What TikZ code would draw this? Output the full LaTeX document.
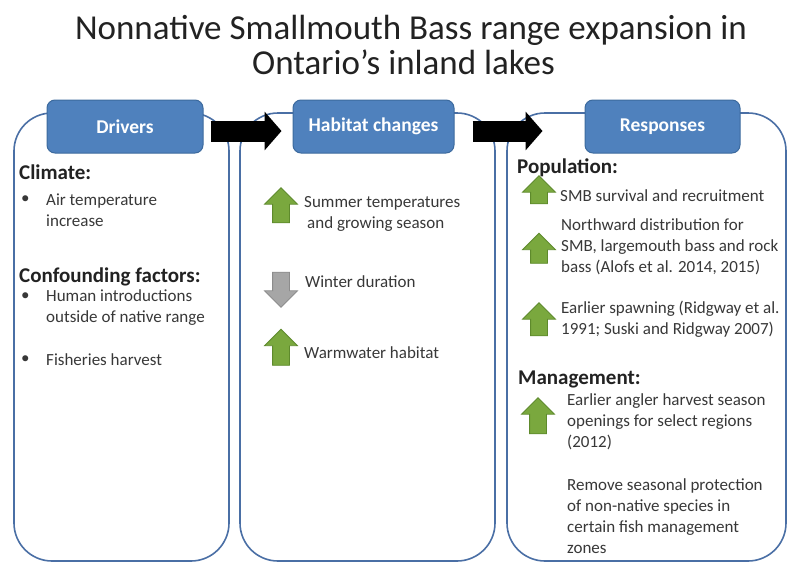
\documentclass[tikz,border=0pt]{standalone}
\usepackage{fontspec}
\setmainfont{Carlito}
\usetikzlibrary{shapes.arrows,arrows.meta}
\definecolor{panelc}{HTML}{4A6FA5}
\definecolor{headf}{HTML}{4F81BD}
\definecolor{headd}{HTML}{3C6A9E}
\definecolor{greenf}{HTML}{7AA83E}
\definecolor{greend}{HTML}{5E8A2C}
\definecolor{grayf}{HTML}{A6A6A6}
\definecolor{grayd}{HTML}{8C8C8C}
\definecolor{txt}{HTML}{383838}
\definecolor{txtb}{HTML}{222222}
\begin{document}
\begin{tikzpicture}[x=1pt,y=-1pt,
  panel/.style={draw=panelc, line width=1.6pt, rounded corners=38pt, fill=white, inner sep=0pt},
  header/.style={draw=headd, line width=1pt, fill=headf, rounded corners=8pt, text=white,
    font=\fontsize{19.5}{23}\selectfont\bfseries, inner sep=0pt, minimum height=53pt},
  titletext/.style={text=txtb, font=\fontsize{35}{35}\selectfont, inner sep=0pt, anchor=base},
  body/.style={text=txt, font=\fontsize{17}{21}\selectfont, inner sep=0pt, anchor=west, align=left},
  headtext/.style={text=txtb, font=\fontsize{21}{25}\selectfont\bfseries, inner sep=0pt, anchor=west},
  arrbase/.style={single arrow, line width=0.8pt, single arrow head extend=8pt,
    single arrow head indent=0pt, inner sep=8pt},
  uparr/.style={arrbase, rotate=90, draw=greend, fill=greenf},
  downarr/.style={arrbase, rotate=-90, draw=grayd, fill=grayf},
  bigarr/.style={line width=21pt, black, -{Triangle[length=17pt,width=38pt]}}
]
\useasboundingbox[fill=white] (0,0) rectangle (790,565);

% title
\node[titletext] (t1) at (411,39) {Nonnative Smallmouth Bass range expansion in};
\node[titletext] (t2) at (403.5,74) {Ontario’s inland lakes};

% panels
\node[panel, minimum width=215pt, minimum height=448pt] (p1) at (121.5,337) {};
\node[panel, minimum width=255pt, minimum height=448pt] (p2) at (367.5,337) {};
\node[panel, minimum width=279pt, minimum height=448pt] (p3) at (646.5,337) {};

% headers
\node[header, minimum width=156pt] (drv) at (125,126.5) {Drivers};
\node[header, minimum width=161pt] (hab) at (373.5,126.5) {Habitat changes};
\node[header, minimum width=155pt] (rsp) at (662.5,126.5) {Responses};

% big arrows
\draw[bigarr] ([shift={(7,4.5)}]drv.east) -- ([shift={(-11,4.5)}]hab.west);
\draw[bigarr] ([shift={(18,4.5)}]hab.east) -- ([shift={(-42,4.5)}]rsp.west);

% left panel
\node[headtext] (clim) at (19,172) {Climate:};
\node[body] (b1) at (21,200) {•};
\node[body] (air) at (46,210.5) {Air temperature\\increase};
\node[headtext] (conf) at (19,277) {Confounding factors:};
\node[body] (b2) at (21,297) {•};
\node[body] (hum) at (46,307.5) {Human introductions\\outside of native range};
\node[body] (b3) at (21,360) {•};
\node[body] (fish) at (46,360) {Fisheries harvest};

% middle panel
\node[uparr, minimum height=35pt] (a1) at (281,209.5) {};
\node[body] (sum) at (304,213.5) {Summer temperatures\\\hspace*{3pt}and growing season};
\node[downarr, minimum height=35pt] (a2) at (281,285.5) {};
\node[body] (win) at (305,282) {Winter duration};
\node[uparr, minimum height=36pt] (a3) at (281,351.5) {};
\node[body] (warm) at (304,353) {Warmwater habitat};

% right panel
\node[headtext] (pop) at (517,168) {Population:};
\node[uparr, minimum height=28pt] (r1) at (539,194) {};
\node[body] (smb) at (560,196) {SMB survival and recruitment};
\node[uparr, minimum height=30pt] (r2) at (539,252.5) {};
\node[body] (nor) at (561,247) {Northward distribution for\\SMB, largemouth bass and rock\\bass (Alofs et al. 2014, 2015)};
\node[uparr, minimum height=33pt] (r3) at (539,323.5) {};
\node[body] (spw) at (561,319) {Earlier spawning (Ridgway et al.\\1991; Suski and Ridgway 2007)};
\node[headtext] (man) at (518,379) {Management:};
\node[uparr, minimum height=36pt] (r4) at (538,420) {};
\node[body] (ang) at (567,422) {Earlier angler harvest season\\openings for select regions\\(2012)};
\node[body] (rem) at (567,516.5) {Remove seasonal protection\\of non-native species in\\certain fish management\\zones};
\end{tikzpicture}
\end{document}
